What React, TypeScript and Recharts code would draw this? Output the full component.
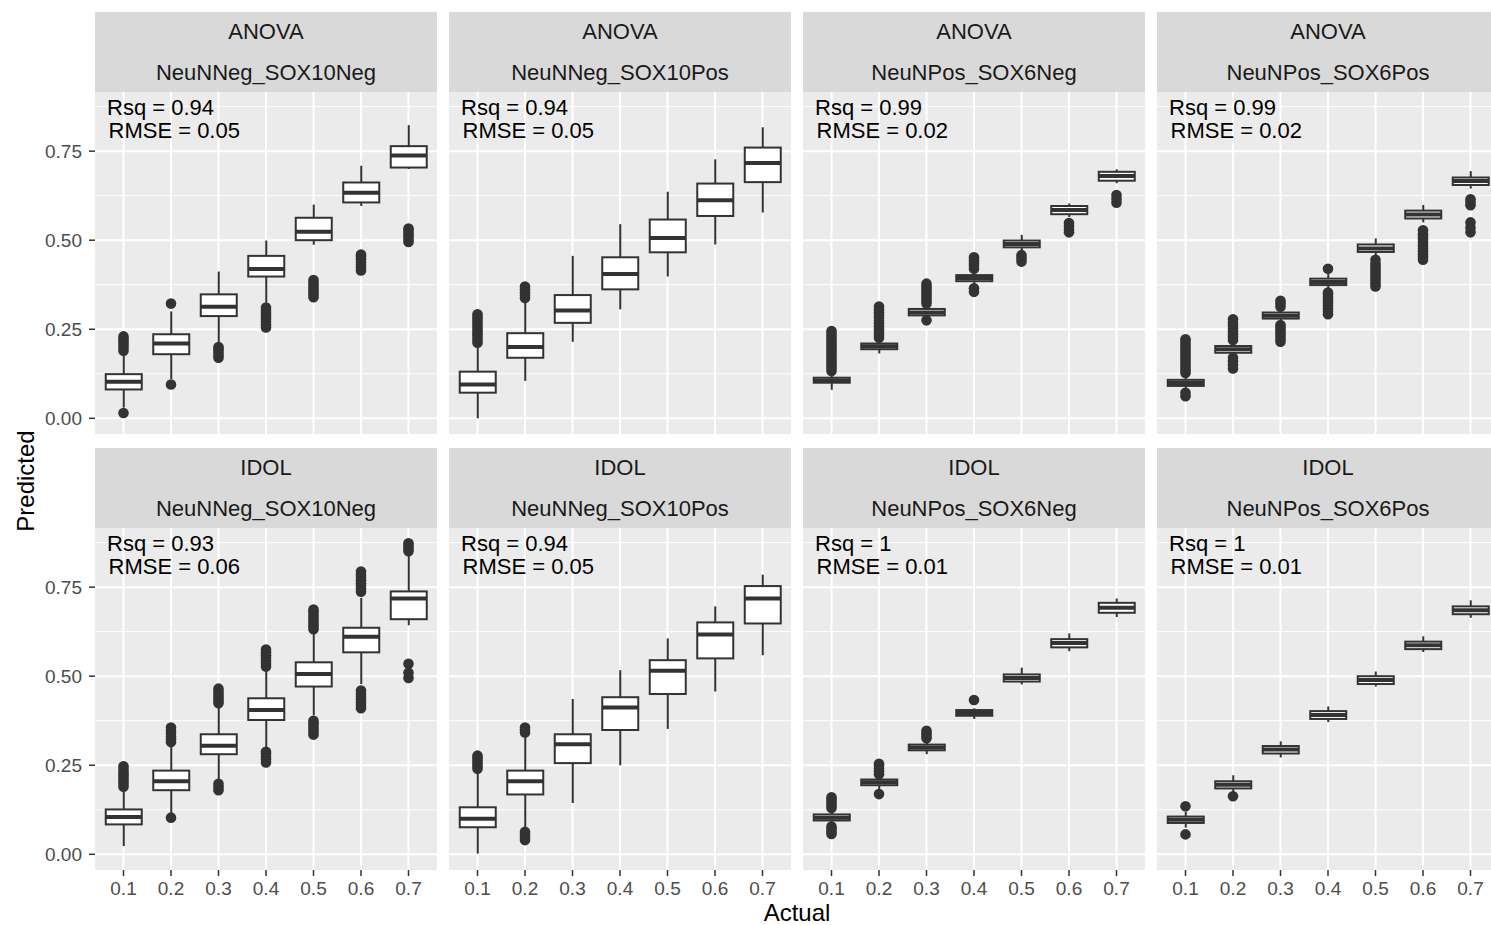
import React from 'react';
import { ComposedChart, Bar, Scatter, XAxis, YAxis, CartesianGrid } from 'recharts';

// categories and axis ticks
const actual = [0.1, 0.2, 0.3, 0.4, 0.5, 0.6, 0.7];
const yTicks = [0, 0.25, 0.5, 0.75];
const yMinor = [0.125, 0.375, 0.625, 0.875];

const methods = ['ANOVA', 'IDOL'];
const cellTypes = ['NeuNNeg_SOX10Neg', 'NeuNNeg_SOX10Pos', 'NeuNPos_SOX6Neg', 'NeuNPos_SOX6Pos'];
const rsq = [[0.94, 0.94, 0.99, 0.99], [0.93, 0.94, 1, 1]];
const rmse = [[0.05, 0.05, 0.02, 0.02], [0.06, 0.05, 0.01, 0.01]];

// box stats per category: [lower whisker, q1, median, q3, upper whisker]
const anovaNegNeg = [
  [0.03, 0.081, 0.103, 0.124, 0.185],
  [0.11, 0.18, 0.21, 0.236, 0.3],
  [0.21, 0.287, 0.313, 0.348, 0.412],
  [0.325, 0.398, 0.419, 0.456, 0.499],
  [0.487, 0.5, 0.524, 0.563, 0.6],
  [0.596, 0.606, 0.633, 0.662, 0.709],
  [0.7, 0.704, 0.738, 0.764, 0.823],
];
const anovaNegPos = [
  [0.0, 0.072, 0.095, 0.131, 0.205],
  [0.105, 0.17, 0.2, 0.239, 0.33],
  [0.215, 0.268, 0.303, 0.346, 0.456],
  [0.306, 0.362, 0.405, 0.452, 0.545],
  [0.398, 0.466, 0.506, 0.558, 0.636],
  [0.488, 0.568, 0.612, 0.659, 0.727],
  [0.578, 0.663, 0.717, 0.76, 0.817],
];
const anovaPosNeg = [
  [0.08, 0.1, 0.106, 0.114, 0.125],
  [0.182, 0.194, 0.202, 0.21, 0.218],
  [0.283, 0.289, 0.297, 0.307, 0.315],
  [0.375, 0.385, 0.394, 0.402, 0.41],
  [0.472, 0.48, 0.489, 0.499, 0.515],
  [0.565, 0.573, 0.585, 0.596, 0.603],
  [0.66, 0.667, 0.68, 0.692, 0.699],
];
const anovaPosPos = [
  [0.085, 0.091, 0.099, 0.108, 0.115],
  [0.178, 0.184, 0.194, 0.203, 0.21],
  [0.274, 0.28, 0.288, 0.297, 0.302],
  [0.366, 0.374, 0.383, 0.392, 0.405],
  [0.458, 0.467, 0.477, 0.488, 0.505],
  [0.55, 0.561, 0.572, 0.583, 0.599],
  [0.645, 0.655, 0.666, 0.676, 0.694],
];
const idolNegNeg = [
  [0.023, 0.084, 0.105, 0.126, 0.177],
  [0.115, 0.18, 0.205, 0.235, 0.305],
  [0.21, 0.281, 0.305, 0.337, 0.415],
  [0.3, 0.377, 0.405, 0.438, 0.52],
  [0.39, 0.471, 0.506, 0.539, 0.622],
  [0.478, 0.567, 0.611, 0.636, 0.72],
  [0.643, 0.66, 0.718, 0.738, 0.84],
];
const idolNegPos = [
  [0.002, 0.076, 0.1, 0.132, 0.233],
  [0.075, 0.168, 0.205, 0.235, 0.33],
  [0.144, 0.256, 0.309, 0.337, 0.436],
  [0.25, 0.349, 0.412, 0.441, 0.517],
  [0.352, 0.45, 0.515, 0.545, 0.606],
  [0.457, 0.55, 0.617, 0.651, 0.696],
  [0.559, 0.648, 0.718, 0.753, 0.785],
];
const idolPosNeg = [
  [0.088, 0.095, 0.103, 0.112, 0.118],
  [0.182, 0.194, 0.202, 0.21, 0.215],
  [0.281, 0.292, 0.3, 0.308, 0.315],
  [0.38, 0.389, 0.397, 0.405, 0.41],
  [0.477, 0.485, 0.495, 0.505, 0.524],
  [0.57, 0.581, 0.593, 0.604, 0.62],
  [0.666, 0.678, 0.692, 0.706, 0.718],
];
const idolPosPos = [
  [0.075, 0.088, 0.097, 0.106, 0.12],
  [0.175, 0.185, 0.195, 0.205, 0.222],
  [0.272, 0.283, 0.294, 0.304, 0.317],
  [0.371, 0.38, 0.391, 0.402, 0.415],
  [0.471, 0.478, 0.489, 0.5, 0.513],
  [0.568, 0.576, 0.587, 0.597, 0.612],
  [0.664, 0.674, 0.685, 0.696, 0.713],
];

// outliers per category
const anovaNegNegOut = [
  [0.015, 0.19, 0.198, 0.206, 0.214, 0.222, 0.23],
  [0.095, 0.322],
  [0.17, 0.178, 0.186, 0.194, 0.2],
  [0.255, 0.263, 0.271, 0.279, 0.287, 0.295, 0.303, 0.311],
  [0.34, 0.348, 0.356, 0.364, 0.372, 0.38, 0.388],
  [0.415, 0.423, 0.431, 0.439, 0.447, 0.455, 0.46],
  [0.495, 0.503, 0.511, 0.519, 0.527, 0.533],
];
const anovaNegPosOut = [
  [0.212, 0.22, 0.228, 0.236, 0.244, 0.252, 0.26, 0.268, 0.276, 0.284, 0.292],
  [0.338, 0.346, 0.354, 0.362, 0.37],
  [], [], [], [], [],
];
const anovaPosNegOut = [
  [0.133, 0.141, 0.149, 0.157, 0.165, 0.173, 0.181, 0.189, 0.197, 0.205, 0.213, 0.221, 0.229, 0.237, 0.245],
  [0.226, 0.234, 0.242, 0.25, 0.258, 0.266, 0.274, 0.282, 0.29, 0.298, 0.306, 0.314],
  [0.275, 0.322, 0.33, 0.338, 0.346, 0.354, 0.362, 0.37, 0.378],
  [0.355, 0.365, 0.42, 0.428, 0.436, 0.444, 0.452],
  [0.44, 0.449, 0.458],
  [0.522, 0.53, 0.539, 0.548],
  [0.605, 0.616, 0.627],
];
const anovaPosPosOut = [
  [0.062, 0.072, 0.127, 0.135, 0.143, 0.151, 0.159, 0.167, 0.175, 0.183, 0.191, 0.199, 0.207, 0.215, 0.222],
  [0.14, 0.15, 0.16, 0.17, 0.22, 0.228, 0.236, 0.244, 0.252, 0.26, 0.268, 0.278],
  [0.215, 0.223, 0.231, 0.239, 0.247, 0.255, 0.262, 0.313, 0.322, 0.33],
  [0.292, 0.3, 0.308, 0.316, 0.324, 0.332, 0.34, 0.348, 0.353, 0.42],
  [0.37, 0.378, 0.386, 0.394, 0.402, 0.41, 0.418, 0.426, 0.434, 0.445],
  [0.445, 0.453, 0.461, 0.469, 0.477, 0.485, 0.493, 0.501, 0.509, 0.517, 0.528],
  [0.522, 0.535, 0.55, 0.598, 0.607, 0.615],
];
const idolNegNegOut = [
  [0.19, 0.198, 0.206, 0.214, 0.222, 0.23, 0.238, 0.247],
  [0.103, 0.315, 0.323, 0.331, 0.339, 0.347, 0.356],
  [0.18, 0.189, 0.198, 0.424, 0.432, 0.44, 0.448, 0.456, 0.465],
  [0.258, 0.266, 0.274, 0.282, 0.288, 0.527, 0.535, 0.543, 0.551, 0.559, 0.567, 0.575],
  [0.336, 0.344, 0.352, 0.36, 0.368, 0.375, 0.632, 0.64, 0.648, 0.656, 0.664, 0.672, 0.68, 0.687],
  [0.41, 0.418, 0.426, 0.434, 0.442, 0.45, 0.46, 0.737, 0.745, 0.753, 0.761, 0.769, 0.777, 0.785, 0.794],
  [0.495, 0.51, 0.535, 0.851, 0.859, 0.866, 0.873],
];
const idolNegPosOut = [
  [0.24, 0.248, 0.256, 0.264, 0.272, 0.277],
  [0.04, 0.048, 0.056, 0.063, 0.342, 0.35, 0.356],
  [], [], [], [], [],
];
const idolPosNegOut = [
  [0.057, 0.064, 0.071, 0.078, 0.13, 0.138, 0.146, 0.154, 0.16],
  [0.169, 0.225, 0.233, 0.241, 0.249, 0.254],
  [0.326, 0.333, 0.34, 0.347],
  [0.433],
  [], [], [],
];
const idolPosPosOut = [
  [0.056, 0.135],
  [0.163],
  [], [], [], [], [],
];

const boxStats = [
  [anovaNegNeg, anovaNegPos, anovaPosNeg, anovaPosPos],
  [idolNegNeg, idolNegPos, idolPosNeg, idolPosPos],
];
const outlierStats = [
  [anovaNegNegOut, anovaNegPosOut, anovaPosNegOut, anovaPosPosOut],
  [idolNegNegOut, idolNegPosOut, idolPosNegOut, idolPosPosOut],
];

const FONT = '"Liberation Sans", Arial, Helvetica, sans-serif';
const DARK = '#333333';
const colLeft = [95, 449, 803, 1157];
const stripTop = [12, 448];
const panelTop = [92, 528];
const PW = 342;
const PH = 342;
const STRIP_H = 80;
const YAW = 55;
const XAH = 32;

const BoxShape = (props: any) => {
  const { x, y, width, height, payload } = props;
  const { lo, q1, med, q3, hi } = payload;
  const top = Math.min(y, y + height);
  const h = Math.abs(height);
  const py = (v: number) => top + (h * (hi - v)) / (hi - lo);
  const cx = x + width / 2;
  return (
    <g>
      <line x1={cx} x2={cx} y1={py(hi)} y2={py(lo)} stroke={DARK} strokeWidth={2} />
      <rect x={x} y={py(q3)} width={width} height={py(q1) - py(q3)} fill="#ffffff" stroke={DARK} strokeWidth={2} />
      <line x1={x} x2={x + width} y1={py(med)} y2={py(med)} stroke={DARK} strokeWidth={4} />
    </g>
  );
};

const OutlierDot = (props: any) => <circle cx={props.cx} cy={props.cy} r={5.3} fill={DARK} />;

function Facet({ row, col }: { row: number; col: number }) {
  const showY = col === 0;
  const showX = row === 1;
  const boxes = boxStats[row][col].map((b, i) => ({ x: actual[i], lo: b[0], q1: b[1], med: b[2], q3: b[3], hi: b[4] }));
  const outliers = outlierStats[row][col].flatMap((vals, i) => vals.map((v) => ({ x: actual[i], y: v })));
  const w = PW + (showY ? YAW : 0);
  const h = PH + (showX ? XAH : 0);
  const tick = { fill: '#4D4D4D', fontSize: 19, fontFamily: FONT };
  return (
    <div style={{ position: 'absolute', left: colLeft[col] - (showY ? YAW : 0), top: panelTop[row], width: w, height: h }}>
      <ComposedChart width={w} height={h} data={boxes} margin={{ top: 0, right: 0, bottom: 0, left: 0 }}>
        <CartesianGrid fill="#EBEBEB" fillOpacity={1} stroke="#ffffff" strokeWidth={1} vertical={false} horizontalValues={yMinor} />
        <CartesianGrid stroke="#ffffff" strokeWidth={2} horizontalValues={yTicks} verticalValues={actual} />
        <XAxis
          dataKey="x"
          type="number"
          domain={[0.04, 0.76]}
          allowDataOverflow
          ticks={actual}
          tickFormatter={(v: number) => v.toFixed(1)}
          hide={!showX}
          height={XAH}
          axisLine={false}
          tickLine={{ stroke: DARK, strokeWidth: 1.5 }}
          tickSize={6}
          tickMargin={6}
          tick={tick}
          interval={0}
        />
        <YAxis
          type="number"
          domain={[-0.044, 0.916]}
          allowDataOverflow
          ticks={yTicks}
          tickFormatter={(v: number) => v.toFixed(2)}
          hide={!showY}
          width={YAW}
          axisLine={false}
          tickLine={{ stroke: DARK, strokeWidth: 1.5 }}
          tickSize={6}
          tickMargin={7}
          tick={tick}
          interval={0}
        />
        <Bar dataKey={(d: any) => [d.lo, d.hi]} barSize={36} shape={BoxShape} isAnimationActive={false} />
        <Scatter data={outliers} dataKey="y" shape={OutlierDot} isAnimationActive={false} />
      </ComposedChart>
    </div>
  );
}

export default function App() {
  const cells: { row: number; col: number }[] = [];
  methods.forEach((_, row) => cellTypes.forEach((__, col) => cells.push({ row, col })));
  return (
    <div style={{ position: 'absolute', left: 0, top: 0, width: 1491, height: 925, overflow: 'hidden', background: '#ffffff', fontFamily: FONT }}>
      {cells.map(({ row, col }) => (
        <Facet key={`${row}-${col}`} row={row} col={col} />
      ))}
      <svg width={1491} height={925} style={{ position: 'absolute', left: 0, top: 0, pointerEvents: 'none' }} fontFamily={FONT}>
        {cells.map(({ row, col }) => (
          <g key={`s-${row}-${col}`}>
            <rect x={colLeft[col]} y={stripTop[row]} width={PW} height={STRIP_H} fill="#D9D9D9" />
            <text x={colLeft[col] + PW / 2} y={stripTop[row] + 27} textAnchor="middle" fontSize={22} fill="#1A1A1A">
              {methods[row]}
            </text>
            <text x={colLeft[col] + PW / 2} y={stripTop[row] + 68} textAnchor="middle" fontSize={22} fill="#1A1A1A">
              {cellTypes[col]}
            </text>
            <text x={colLeft[col] + 12} y={panelTop[row] + 23} fontSize={22} fill="#000000">
              {`Rsq = ${rsq[row][col]}`}
            </text>
            <text x={colLeft[col] + 13.5} y={panelTop[row] + 46} fontSize={22} fill="#000000">
              {`RMSE = ${rmse[row][col]}`}
            </text>
          </g>
        ))}
        <text x={797} y={921} textAnchor="middle" fontSize={24} fill="#000000">
          Actual
        </text>
        <text transform="translate(34, 481) rotate(-90)" textAnchor="middle" fontSize={24} fill="#000000">
          Predicted
        </text>
      </svg>
    </div>
  );
}
